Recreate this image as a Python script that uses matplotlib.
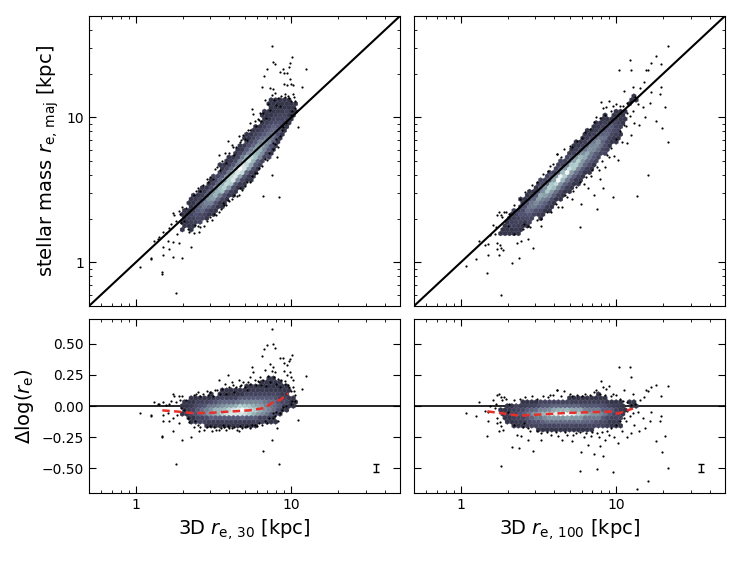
import numpy as np
import matplotlib.pyplot as plt
from matplotlib.colors import ListedColormap, PowerNorm
from matplotlib.ticker import NullFormatter

# density levels of the hex maps (0 = empty, 9 = densest), in log10(x) vs dlog
lx_left = [0.32, 0.36, 0.40, 0.44, 0.48, 0.52, 0.56, 0.60, 0.64,
           0.68, 0.72, 0.76, 0.80, 0.84, 0.88, 0.92, 0.96, 1.00]
dl_left = [0.22, 0.18, 0.14, 0.10, 0.06, 0.02, -0.02, -0.06, -0.10, -0.14]
lev_left = [
    [0, 0, 0, 0, 0, 0, 0, 0, 0, 0, 0, 0, 0, 0, 1, 0, 0, 0],
    [0, 0, 0, 0, 0, 0, 0, 0, 0, 0, 0, 0, 0, 1, 1, 1, 0, 0],
    [0, 0, 0, 0, 0, 0, 0, 0, 0, 0, 1, 1, 1, 1, 1, 1, 1, 0],
    [0, 0, 0, 0, 0, 0, 1, 1, 1, 1, 2, 2, 2, 2, 2, 2, 1, 0],
    [0, 1, 1, 1, 1, 2, 2, 2, 2, 3, 3, 3, 3, 3, 3, 2, 2, 1],
    [1, 1, 2, 2, 3, 3, 4, 4, 4, 5, 5, 5, 5, 4, 4, 3, 2, 1],
    [1, 2, 3, 4, 5, 6, 6, 7, 8, 9, 8, 7, 6, 5, 4, 3, 1, 0],
    [1, 2, 3, 4, 5, 6, 7, 8, 8, 8, 7, 6, 5, 4, 3, 1, 0, 0],
    [0, 1, 2, 2, 3, 3, 3, 3, 3, 3, 3, 3, 2, 2, 1, 0, 0, 0],
    [0, 0, 0, 0, 1, 1, 1, 1, 1, 1, 1, 1, 0, 0, 0, 0, 0, 0],
]

lx_right = [0.28, 0.32, 0.36, 0.40, 0.44, 0.48, 0.52, 0.56, 0.60, 0.64, 0.68,
            0.72, 0.76, 0.80, 0.84, 0.88, 0.92, 0.96, 1.00, 1.04, 1.06, 1.10]
dl_right = [0.06, 0.02, -0.02, -0.06, -0.10, -0.14, -0.18]
lev_right = [
    [0, 0, 0, 0, 0, 0, 0, 0, 0, 0, 0, 1, 1, 1, 1, 1, 1, 0, 0, 0, 0, 0],
    [0, 0, 0, 1, 1, 1, 2, 2, 2, 2, 2, 2, 2, 2, 2, 2, 2, 1, 1, 0, 0, 1],
    [0, 1, 2, 2, 3, 3, 4, 4, 5, 5, 5, 5, 5, 4, 4, 4, 3, 3, 2, 1, 0, 0],
    [1, 2, 2, 3, 4, 5, 6, 7, 8, 9, 9, 8, 7, 6, 5, 5, 4, 3, 2, 1, 0, 0],
    [0, 1, 2, 2, 3, 4, 4, 5, 5, 5, 5, 5, 5, 4, 4, 4, 3, 2, 2, 0, 0, 0],
    [0, 0, 1, 1, 2, 2, 3, 3, 3, 3, 3, 3, 3, 3, 3, 2, 2, 1, 1, 0, 0, 0],
    [0, 0, 0, 0, 0, 0, 1, 1, 1, 1, 1, 1, 1, 1, 1, 0, 0, 0, 0, 0, 0, 0],
]

# sparse galaxies drawn as dots: 3D r_e [kpc] and dlog(r_e)
out_x_left = [1.07, 1.26, 1.31, 1.48, 1.38, 1.42, 1.50, 1.56, 1.64, 1.73, 1.77, 1.89,
              1.99, 1.91, 1.68, 1.80, 1.25, 1.49, 1.60, 1.73, 1.83, 1.89, 1.64, 1.49,
              1.73, 1.47, 1.99, 2.27, 2.55, 1.80, 2.05, 2.10, 2.15, 1.95, 2.20,
              3.89, 3.41, 3.73, 4.13, 4.58, 4.68, 4.91, 5.16, 3.24, 2.91, 3.13, 3.47,
              3.83, 4.30, 2.60, 2.45,
              3.30, 3.55, 3.83, 4.13, 4.45, 4.79, 3.64, 3.89, 2.99, 2.76, 2.50, 2.35,
              3.10, 5.16, 4.67, 5.60, 6.00, 6.50, 7.00, 8.07, 7.50, 6.55, 8.28, 8.71,
              8.49, 7.87, 7.60, 8.20,
              7.50, 6.95, 7.61, 7.87, 6.68, 6.46, 8.40, 8.83, 10.1, 9.86, 9.01, 9.40,
              9.70, 7.31, 7.68, 7.50, 7.87, 6.79, 5.56, 5.70, 5.42, 6.30, 8.91, 9.33,
              9.80, 10.3, 10.0, 9.14, 9.50, 11.7, 12.4, 10.4, 10.5, 10.6, 10.1, 11.0,
              5.40, 5.90, 6.40, 6.90, 8.00, 8.50, 7.30, 6.10, 5.00, 4.40,
              2.35, 2.52, 2.70, 2.85, 3.00, 3.35, 3.60, 4.00, 4.20, 4.75, 5.30, 5.80,
              6.20, 6.60, 7.10, 7.70, 8.20, 8.60, 9.10, 9.60, 10.2, 9.90,
              2.40, 2.60, 2.85, 3.20, 3.45, 3.70, 4.00, 4.30, 4.60, 5.00, 5.40, 5.80,
              6.20, 6.80, 7.20, 7.60, 8.00, 8.80, 9.20, 9.90]
out_d_left = [-0.06, -0.08, 0.03, -0.24, 0.02, 0.02, 0.03, 0.01, 0.02, 0.10, 0.08, 0.08,
              0.08, 0.05, 0.04, 0.03, -0.07, -0.07, -0.06, -0.10, -0.07, -0.14, -0.12, -0.12,
              -0.20, -0.25, -0.27, -0.25, -0.20, -0.47, -0.03, 0.05, -0.10, -0.02, -0.13,
              0.25, 0.21, 0.18, 0.19, 0.21, 0.16, 0.19, 0.13, 0.13, 0.09, 0.08, 0.10,
              0.10, 0.11, 0.08, 0.10,
              -0.19, -0.18, -0.19, -0.18, -0.19, -0.18, -0.15, -0.16, -0.16, -0.19, -0.15, -0.17,
              -0.20, -0.16, -0.16, -0.15, -0.16, -0.15, -0.14, -0.18, -0.27, -0.36, -0.47, -0.03,
              -0.06, -0.08, -0.10, -0.12,
              0.62, 0.49, 0.50, 0.47, 0.46, 0.40, 0.39, 0.39, 0.41, 0.38, 0.35, 0.33,
              0.36, 0.34, 0.31, 0.28, 0.27, 0.29, 0.31, 0.27, 0.23, 0.23, 0.28, 0.25,
              0.27, 0.21, 0.23, 0.20, 0.17, 0.14, 0.24, 0.12, 0.09, 0.04, 0.04, -0.11,
              0.18, 0.17, 0.17, 0.16, 0.18, 0.15, 0.19, 0.20, 0.15, 0.15,
              0.09, 0.11, 0.10, 0.12, 0.11, 0.13, 0.14, 0.15, 0.17, 0.17, 0.19, 0.21,
              0.19, 0.21, 0.24, 0.23, 0.22, 0.21, 0.18, 0.15, 0.15, 0.12,
              -0.12, -0.17, -0.17, -0.17, -0.19, -0.17, -0.18, -0.17, -0.20, -0.17, -0.18, -0.15,
              -0.14, -0.12, -0.10, -0.06, -0.05, -0.01, 0.00, 0.02]

out_x_right = [1.08, 1.26, 1.31, 1.47, 1.50, 1.55, 1.62, 1.65, 1.68, 1.72, 1.76, 1.80,
               1.84, 1.90, 1.95, 1.72, 1.78, 1.70, 1.81, 1.88, 2.13, 2.36, 1.81, 2.90,
               2.30, 2.45, 2.00, 2.05, 1.44, 1.49, 1.77,
               4.14, 4.60, 3.40, 3.65, 5.20, 6.30, 7.40, 8.00, 8.20, 8.60, 9.00, 10.4,
               12.2, 12.5, 9.50, 10.0, 11.2, 12.8, 15.6, 16.0, 16.8, 17.9, 21.5, 19.5,
               15.0, 14.2, 3.75, 4.16,
               5.94, 5.80, 7.14, 7.50, 9.51, 8.20, 7.80, 10.2, 16.0, 13.5, 21.5, 19.8,
               20.5, 19.5, 19.0, 17.9, 16.5, 15.2, 14.0, 13.0, 12.5, 11.8, 11.5, 12.2,
               13.8, 14.8, 16.8, 10.8, 9.70, 9.00, 8.40, 7.70, 6.90, 6.20, 5.50, 4.80,
               4.20, 3.60, 3.10, 2.70, 2.55, 4.50, 5.20, 6.60, 3.30, 2.70,
               2.20, 2.40, 2.60, 2.85, 3.10, 3.90, 4.40, 5.00, 5.60, 6.00, 6.80, 7.20,
               7.90, 8.40, 9.20, 10.5, 11.0, 11.8, 12.5, 13.2,
               2.20, 2.50, 2.80, 3.30, 3.80, 4.10, 4.70, 5.30, 5.80, 6.40, 7.00, 7.50,
               8.10, 8.70, 9.30, 10.0, 10.6, 11.2, 11.8, 12.8]
out_d_right = [-0.06, -0.08, 0.03, -0.24, -0.05, 0.00, 0.05, -0.02, 0.02, 0.09, 0.10, 0.07,
               0.05, 0.07, 0.06, -0.10, -0.13, -0.14, -0.16, -0.19, -0.33, -0.34, -0.48, -0.36,
               -0.23, -0.24, -0.05, 0.02, -0.04, -0.12, -0.20,
               0.13, 0.12, 0.08, 0.07, 0.08, 0.10, 0.13, 0.20, 0.15, 0.14, 0.16, 0.31,
               0.31, 0.23, 0.10, 0.09, 0.13, 0.10, 0.13, 0.12, 0.15, 0.17, 0.16, 0.08,
               0.07, 0.05, 0.09, 0.13,
               -0.37, -0.52, -0.39, -0.51, -0.53, -0.40, -0.32, -0.30, -0.60, -0.67, -0.50, -0.37,
               -0.24, -0.08, -0.12, -0.28, -0.12, -0.18, -0.20, -0.15, -0.22, -0.25, -0.12, -0.08,
               -0.05, -0.10, -0.05, -0.20, -0.25, -0.23, -0.27, -0.25, -0.24, -0.25, -0.22, -0.23,
               -0.24, -0.21, -0.20, -0.18, -0.14, -0.27, -0.28, -0.31, -0.27, -0.27,
               0.05, 0.06, 0.07, 0.08, 0.06, 0.09, 0.08, 0.10, 0.09, 0.08, 0.09, 0.11,
               0.10, 0.09, 0.08, 0.06, 0.04, 0.03, 0.01, 0.02,
               -0.15, -0.17, -0.20, -0.22, -0.23, -0.21, -0.21, -0.23, -0.21, -0.22, -0.21, -0.22,
               -0.21, -0.20, -0.18, -0.15, -0.12, -0.10, -0.04, -0.06]

# running median of dlog(r_e)
med_x_left = [1.48, 1.86, 2.24, 2.95, 3.98, 5.37, 6.76, 7.50, 8.51, 9.55]
med_d_left = [-0.035, -0.045, -0.056, -0.056, -0.045, -0.035, -0.016, 0.024, 0.05, 0.10]
med_x_right = [1.48, 2.40, 3.55, 4.79, 7.76, 9.50, 10.2, 11.2, 12.8]
med_d_right = [-0.043, -0.078, -0.065, -0.056, -0.048, -0.045, -0.062, -0.045, -0.02]

# typical uncertainty
err_x = 35.0
err_d = -0.5
err_size = 0.03

xlabels = [r'3D $r_{\rm e,\,30}$ [kpc]', r'3D $r_{\rm e,\,100}$ [kpc]']


def cells_to_points(lx, dl, levels):
    # spread each table cell over a few sub-points so every hex gets filled
    sub = [-0.015, -0.005, 0.005, 0.015]
    xs, ds, cs = [], [], []
    for j, d in enumerate(dl):
        for i, l in enumerate(lx):
            if levels[j][i] == 0:
                continue
            for a in sub:
                for b in sub:
                    xs.append(l + a)
                    ds.append(d + b)
                    cs.append(levels[j][i])
    return 10 ** np.array(xs), np.array(ds), np.array(cs)


cmap = ListedColormap(plt.cm.bone(np.linspace(0.24, 1.0, 256)))

fig = plt.figure(figsize=(7.47, 5.61), dpi=100)
W, H = 747.0, 561.0
lefts = [89 / W, 414 / W]
width = 311 / W
top_box = (1 - 306 / H, 290 / H)
bot_box = (1 - 493 / H, 174 / H)

tables = [(lx_left, dl_left, lev_left), (lx_right, dl_right, lev_right)]
outs = [(out_x_left, out_d_left), (out_x_right, out_d_right)]
meds = [(med_x_left, med_d_left), (med_x_right, med_d_right)]
lext = (np.log10(0.5), np.log10(50))

for k in range(2):
    ax_t = fig.add_axes([lefts[k], top_box[0], width, top_box[1]])
    ax_b = fig.add_axes([lefts[k], bot_box[0], width, bot_box[1]])

    hx, hd, hc = cells_to_points(*tables[k])
    ox = np.array(outs[k][0])
    od = np.array(outs[k][1])

    # top: stellar mass r_e vs 3D r_e
    ax_t.hexbin(hx, hx * 10 ** hd, C=hc, reduce_C_function=np.mean,
                gridsize=(70, 38), xscale='log', yscale='log',
                extent=(lext[0], lext[1], lext[0], lext[1]),
                cmap=cmap, norm=PowerNorm(1.15, vmin=1, vmax=9),
                linewidths=0.2, edgecolors='face', zorder=2)
    ax_t.scatter(ox, ox * 10 ** od, s=2.5, c='k', linewidths=0, zorder=3)
    ax_t.plot([0.5, 50], [0.5, 50], c='k', lw=1.5, zorder=4)
    ax_t.set_xlim(0.5, 50)
    ax_t.set_ylim(0.5, 50)
    ax_t.set_xticks([1, 10])
    ax_t.set_yticks([1, 10])
    ax_t.xaxis.set_major_formatter(NullFormatter())
    if k == 0:
        ax_t.set_yticklabels(['1', '10'])
        ax_t.set_ylabel(r'stellar mass $r_{\rm e,\,maj}$ [kpc]', fontsize=14)
    else:
        ax_t.yaxis.set_major_formatter(NullFormatter())

    # bottom: residuals
    ax_b.hexbin(hx, hd, C=hc, reduce_C_function=np.mean,
                gridsize=(70, 22), xscale='log',
                extent=(lext[0], lext[1], -0.7, 0.7),
                cmap=cmap, norm=PowerNorm(1.15, vmin=1, vmax=9),
                linewidths=0.2, edgecolors='face', zorder=2)
    ax_b.scatter(ox, od, s=2.5, c='k', linewidths=0, zorder=3)
    ax_b.axhline(0, c='k', lw=1.2, zorder=1)
    ax_b.plot(meds[k][0], meds[k][1], c='#e8302a', lw=1.8, dashes=(3, 1.7), zorder=4)
    ax_b.errorbar(err_x, err_d, yerr=err_size, fmt='none', ecolor='k',
                  elinewidth=1, capsize=2, capthick=1)
    ax_b.set_xlim(0.5, 50)
    ax_b.set_ylim(-0.7, 0.7)
    ax_b.set_xticks([1, 10])
    ax_b.set_xticklabels(['1', '10'])
    ax_b.set_yticks([-0.5, -0.25, 0, 0.25, 0.5])
    ax_b.set_xlabel(xlabels[k], fontsize=14)
    if k == 0:
        ax_b.set_yticklabels(['\u22120.50', '\u22120.25', '0.00', '0.25', '0.50'])
        ax_b.set_ylabel(r'$\Delta\log(r_{\rm e})$', fontsize=14)
    else:
        ax_b.yaxis.set_major_formatter(NullFormatter())

    for ax in (ax_t, ax_b):
        ax.xaxis.set_minor_formatter(NullFormatter())
        ax.yaxis.set_minor_formatter(NullFormatter())
        ax.tick_params(which='both', direction='in', top=True, right=True, labelsize=10)
        ax.tick_params(which='major', length=5)
        ax.tick_params(which='minor', length=2.5)

fig.savefig('out.png', dpi=100)
